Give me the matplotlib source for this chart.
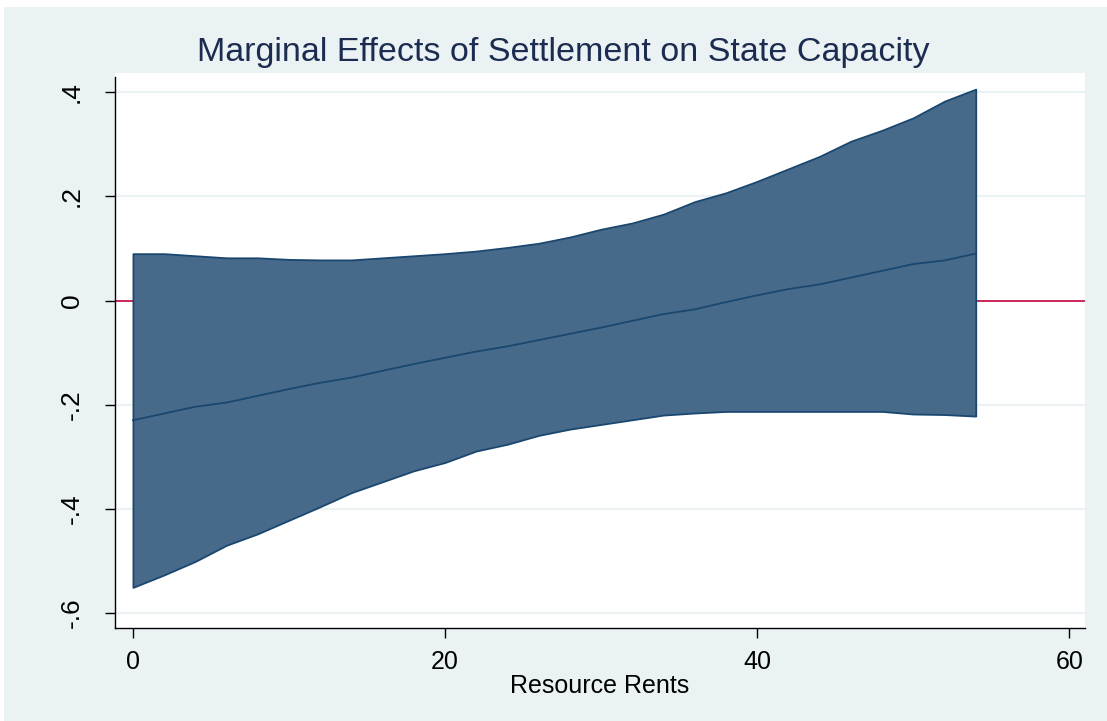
import numpy as np
import matplotlib
matplotlib.use("Agg")
import matplotlib.pyplot as plt
from matplotlib.patches import Rectangle

# Stata s2color look
OUTER_BG = "#EAF2F3"
GRID = "#EAF2F3"
BAND_FILL = "#476A8A"
NAVY = "#1A476F"
TITLE_COL = "#1C2B50"
ZERO_RED = "#C8174A"

plt.rcParams["font.family"] = ["Liberation Sans", "DejaVu Sans"]

# Data
resource_rents = [0, 2, 4, 6, 8, 10, 12, 14, 16, 18, 20, 22, 24, 26,
                  28, 30, 32, 34, 36, 38, 40, 42, 44, 46, 48, 50, 52, 54]
effect = [-0.230, -0.217, -0.204, -0.196, -0.183, -0.170, -0.158, -0.148,
          -0.135, -0.122, -0.110, -0.098, -0.088, -0.076, -0.064, -0.052,
          -0.039, -0.026, -0.017, -0.003, 0.010, 0.022, 0.031, 0.044,
          0.057, 0.070, 0.077, 0.090]
ci_upper = [0.090, 0.090, 0.086, 0.082, 0.082, 0.079, 0.078, 0.078,
            0.082, 0.086, 0.090, 0.095, 0.102, 0.110, 0.122, 0.137,
            0.149, 0.166, 0.190, 0.207, 0.229, 0.253, 0.277, 0.306,
            0.327, 0.351, 0.383, 0.406]
ci_lower = [-0.551, -0.527, -0.501, -0.470, -0.448, -0.422, -0.396, -0.369,
            -0.348, -0.327, -0.311, -0.289, -0.276, -0.259, -0.247, -0.238,
            -0.229, -0.220, -0.216, -0.213, -0.213, -0.213, -0.213, -0.213,
            -0.213, -0.218, -0.219, -0.222]

x_ticks = [0, 20, 40, 60]
y_ticks = [-0.6, -0.4, -0.2, 0, 0.2, 0.4]
y_ticklabels = ["-.6", "-.4", "-.2", "0", ".2", ".4"]

fig = plt.figure(figsize=(11.07, 7.21), dpi=100, facecolor="white")
fig.patches.append(Rectangle((4 / 1107, 0), 1 - 4 / 1107, 1 - 7 / 721,
                             transform=fig.transFigure, facecolor=OUTER_BG,
                             edgecolor="none", zorder=-10))

ax = fig.add_axes([115 / 1107, 93 / 721, 970 / 1107, 555 / 721])
ax.set_facecolor("white")

for yv in y_ticks:
    ax.axhline(yv, color=GRID, lw=1.5, zorder=0)
ax.axhline(0, color=ZERO_RED, lw=1.3, zorder=1)

ax.fill_between(resource_rents, ci_lower, ci_upper, facecolor=BAND_FILL,
                edgecolor=NAVY, lw=1.3, zorder=2)
ax.plot(resource_rents, effect, color=NAVY, lw=1.3, zorder=3)

ax.set_xlim(-1.15, 61.0)
ax.set_ylim(-0.629, 0.437)
ax.set_xticks(x_ticks)
ax.set_yticks(y_ticks)
ax.set_yticklabels(y_ticklabels, rotation=90, va="center")

for side in ["top", "right"]:
    ax.spines[side].set_visible(False)
for side in ["left", "bottom"]:
    ax.spines[side].set_color("black")
    ax.spines[side].set_linewidth(1.0)
ax.spines["left"].set_bounds(-0.629, 0.43)

ax.tick_params(axis="x", length=7, width=1.0, labelsize=18, pad=9)
ax.tick_params(axis="y", length=7, width=1.0, labelsize=19, pad=15.5)

ax.set_xlabel("Resource Rents", fontsize=18, labelpad=0)

fig.text(563 / 1107, 1 - 52 / 721,
         "Marginal Effects of Settlement on State Capacity",
         ha="center", va="center", fontsize=24.5, color=TITLE_COL)

fig.savefig("out.png", dpi=100)
